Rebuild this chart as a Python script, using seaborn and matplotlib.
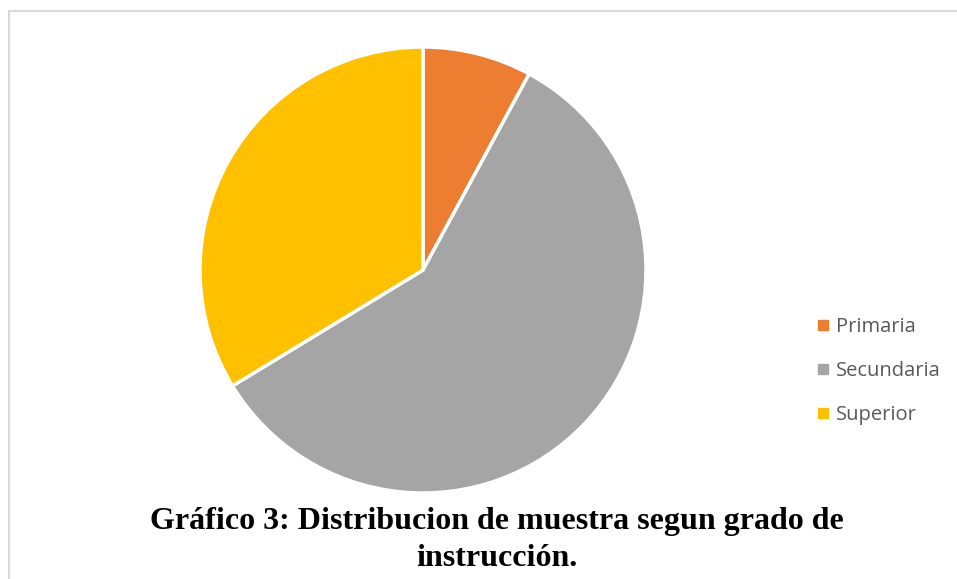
import matplotlib
matplotlib.use("Agg")
import matplotlib.pyplot as plt
import seaborn as sns
from matplotlib.patches import Rectangle
from matplotlib.lines import Line2D

categories = ["Primaria", "Secundaria", "Superior"]
values = [7.9, 58.4, 33.7]
colors = ["#ED7D31", "#A5A5A5", "#FFC000"]

sns.set_theme(style="white")
plt.rcParams['font.family'] = ['Open Sans', 'DejaVu Sans']

W, H = 957, 579
fig = plt.figure(figsize=(W / 100, H / 100), dpi=100)

# border (left and top visible only)
fig.patches.append(Rectangle((9 / W, -0.2), 1.2, (H - 11) / H + 0.2, transform=fig.transFigure,
                             fill=False, edgecolor="#D9D9D9", linewidth=1.5))

cx, cy, r = 423, 270, 223
ax = fig.add_axes([(cx - r) / W, (H - cy - r) / H, 2 * r / W, 2 * r / H])
ax.pie(values, colors=colors, startangle=90, counterclock=False, radius=1,
       wedgeprops=dict(edgecolor="white", linewidth=2.5))
ax.set_xlim(-1, 1)
ax.set_ylim(-1, 1)
ax.set_aspect("equal")
ax.axis("off")

handles = [Line2D([0], [0], marker="s", linestyle="none", markersize=7,
                  markerfacecolor=c, markeredgecolor=c) for c in colors]
fig.legend(handles, categories, loc="center left", bbox_to_anchor=(795 / W, 1 - 371 / H),
           frameon=False, fontsize=14.5, labelcolor="#595959", handletextpad=0.15,
           labelspacing=1.18, handlelength=1.0)

fig.text(497 / W, 1 - 521 / H, "Gráfico 3: Distribucion de muestra segun grado de",
         ha="center", va="center", fontsize=23, fontweight="bold",
         family=["Liberation Serif"], color="black")
fig.text(497 / W, 1 - 558 / H, "instrucción.",
         ha="center", va="center", fontsize=23, fontweight="bold",
         family=["Liberation Serif"], color="black")

fig.savefig("out.png", dpi=100)
